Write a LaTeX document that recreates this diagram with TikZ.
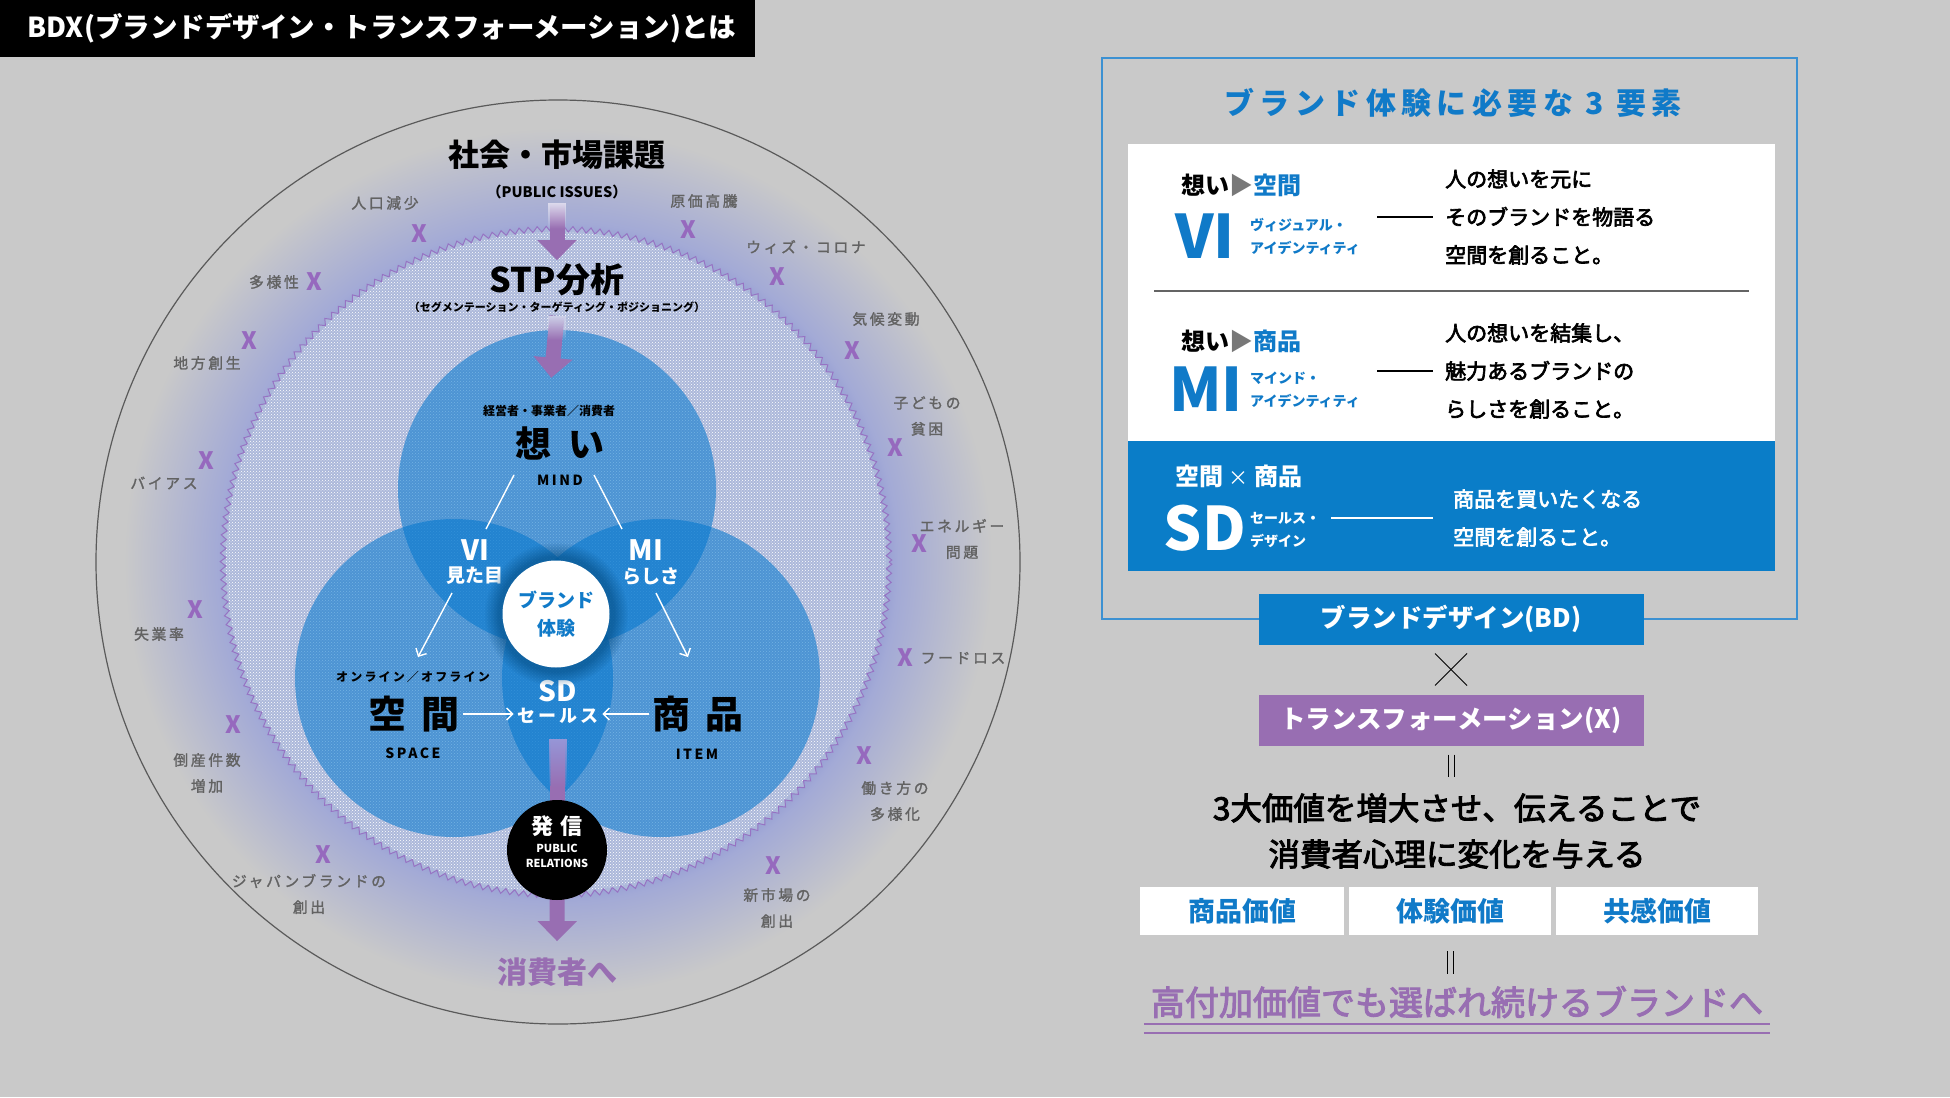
\documentclass[tikz,border=0pt]{standalone}
\usepackage{fontspec}
\setmainfont{Noto Sans CJK JP}
\newfontfamily\jpwide[LetterSpace=18]{Noto Sans CJK JP}
\newfontfamily\jpmed[FakeBold=3]{Noto Sans CJK JP}
\newfontfamily\jplbl[LetterSpace=18, FakeBold=1.5]{Noto Sans CJK JP}
\usetikzlibrary{arrows.meta, calc, decorations.pathmorphing, fadings, patterns}
\usepackage{xcolor}
\definecolor{bgGray}{RGB}{201,201,201}
\definecolor{lblGray}{RGB}{98,98,98}
\definecolor{ringGray}{RGB}{90,90,90}
\definecolor{sepGray}{RGB}{100,100,100}
\definecolor{triGray}{RGB}{120,120,120}
\definecolor{xPurple}{RGB}{150,105,190}
\definecolor{aPurple}{RGB}{152,110,178}
\definecolor{bBlue}{RGB}{10,125,200}
\definecolor{tBlue}{RGB}{16,122,200}
\definecolor{frameBlue}{RGB}{60,145,210}
\definecolor{vennBlue}{RGB}{0,118,206}
\definecolor{zigFill}{RGB}{172,184,218}
\definecolor{zigLine}{RGB}{150,115,195}
\definecolor{haloIn}{RGB}{150,158,212}
\definecolor{haloMid}{RGB}{163,170,214}
\definecolor{fadeTop}{RGB}{222,220,238}
\definecolor{fadeMid}{RGB}{205,208,232}
\definecolor{fadeLow}{RGB}{150,150,215}

\newcommand\fsz[1]{\fontsize{#1pt}{#1pt}\selectfont}
\newcommand\fsl[2]{\fontsize{#1pt}{#2pt}\selectfont}

\pgfdeclareradialshading{halo}{\pgfpoint{0bp}{0bp}}{color(0bp)=(haloIn); color(17.6bp)=(haloIn); color(18.4bp)=(haloMid); color(23.5bp)=(bgGray); color(50bp)=(bgGray)}
\tikzfading[name=fadedown, top color=transparent!0, bottom color=transparent!100]

\tikzset{
  issue/.style={text=lblGray, font=\jplbl\fsl{14.8}{26}, align=center},
  xmark/.style={text=xPurple, font=\bfseries\fsz{24}, inner sep=0pt},
  wtxt/.style={text=white, font=\bfseries\fsz{19}},
  wline/.style={draw=white, line width=1.4pt},
  warrow/.style={wline, -{Straight Barb[length=6pt, width=12pt]}},
  parrow/.style={draw=aPurple, line width=15pt, -{Triangle[width=38pt, length=20pt]}},
  rowhead/.style={anchor=west, inner sep=0pt, font=\bfseries\fsz{24}},
  kana/.style={anchor=west, inner sep=0pt, text=tBlue, font=\bfseries\fsl{14}{23}, align=left},
  desc/.style={anchor=west, inner sep=0pt, font=\jpmed\fsl{21}{38}, align=left},
  abbr/.style={font=\bfseries\fsz{60}, inner sep=0pt},
  valbox/.style={fill=white, text=tBlue, font=\bfseries\fsz{27}, minimum height=48pt},
  barbox/.style={text=white, font=\bfseries\fsz{25.5}, minimum width=385pt, minimum height=51pt},
}

\begin{document}
\begin{tikzpicture}[x=1pt, y=-1pt]
\fill[bgGray] (0,0) rectangle (1950,1097);
\useasboundingbox (0,0) rectangle (1950,1097);

% Title bar
\fill[black] (0,0) rectangle (755,57);
\node[text=white, font=\bfseries\fsz{27.5}] (title) at (382,28) {BDX(ブランドデザイン・トランスフォーメーション)とは};

% Outer ring with glow
\shade[shading=halo] (558,562) circle (462);
\draw[ringGray, line width=1.2pt] (558,562) circle (462);

% STP disk
\filldraw[fill=zigFill, draw=zigLine, line width=1pt, decorate,
  decoration={zigzag, segment length=9pt, amplitude=2.8pt}] (556,562) circle (333);
\fill[pattern=crosshatch dots, pattern color=white] (556,562) circle (330);

% Venn circles
\foreach \x/\y in {557/489, 454/678, 661/678} {
  \fill[vennBlue, fill opacity=0.55] (\x,\y) circle (159);
}

% Issues around the ring
\foreach \nm/\x/\y/\lbl in {jinko/385/203/人口減少, genka/704/201/原価高騰,
    withc/806/247/ウィズ・コロナ, kiko/886/319/気候変動, kodomo/927/416/子どもの\\貧困,
    energy/962/539/エネルギー\\問題, food/963/658/フードロス, hataraki/895/801/働き方の\\多様化,
    shinshijo/777/908/新市場の\\創出, japan/309/894/ジャパンブランドの\\創出,
    tosan/207/773/倒産件数\\増加, shitsugyo/159/634/失業率, bias/164/483/バイアス,
    chiho/207/363/地方創生, tayo/274/282/多様性} {
  \node[issue] (\nm) at (\x,\y) {\lbl};
}
\foreach \x/\y [count=\i] in {419/234, 688/230, 777/277, 852/351, 895/448, 919/544,
    905/658, 864/756, 773/866, 323/855, 233/725, 195/610, 206/461, 249/341, 314/282} {
  \node[xmark] (xm\i) at (\x,\y) {X};
}

% Flow labels
\node[font=\bfseries\fsz{31}] (issues) at (557,155) {社会・市場課題};
\node[font=\bfseries\fsz{14.5}] (pubissues) at (557,192) {（PUBLIC ISSUES）};
\node[font=\bfseries\fsz{34}] (stp) at (557,280) {STP分析};
\node[font=\bfseries\fsz{11}] (stpsub) at (557,307) {（セグメンテーション・ターゲティング・ポジショニング）};
\node[font=\bfseries\fsz{12}] (keiei) at (549,411) {経営者・事業者／消費者};
\node[font=\bfseries\fsz{36}] (omoi) at (560,443) {想\hspace{0.45em}い};
\node[font=\jpwide\bfseries\fsz{14}] (mind) at (560,480) {MIND};
\node[wtxt, font=\bfseries\fsz{28}] (vi) at (475,550) {VI};
\node[wtxt] (mitame) at (475,576) {見た目};
\node[wtxt, font=\bfseries\fsz{28}] (mi) at (646,550) {MI};
\node[wtxt] (rashisa) at (651,577) {らしさ};
\node[font=\jpwide\bfseries\fsz{12}] (online) at (413,677) {オンライン／オフライン};
\node[font=\bfseries\fsz{38}] (kukan) at (414,714) {空\hspace{0.4em}間};
\node[font=\jpwide\bfseries\fsz{14}] (space) at (413,753) {SPACE};
\node[wtxt, font=\bfseries\fsz{28}] (sd) at (558,691) {SD};
\node[wtxt, font=\jpwide\bfseries\fsz{18}] (sales) at (558,716) {セールス};
\node[font=\bfseries\fsz{38}] (shohin) at (698,714) {商\hspace{0.4em}品};
\node[font=\jpwide\bfseries\fsz{14}] (item) at (697,754) {ITEM};
\node[text=aPurple, font=\bfseries\fsz{30}] (consumer) at (557,972) {消費者へ};

% Purple flow arrows
\draw[parrow] (pubissues.south) -- (stp.north);
\fill[fadeTop, path fading=fadedown] ($(pubissues.south)+(-9,0)$) rectangle ($(pubissues.south)+(9,26)$);
\draw[parrow, shorten >=24pt] (stpsub.south) -- (keiei.north);
\fill[fadeMid, path fading=fadedown] ($(stpsub.south)+(-9,0)$) rectangle ($(stpsub.south)+(9,24)$);
\draw[parrow, shorten <=12pt, shorten >=13pt] (sales.south) -- (consumer.north);
\fill[fadeLow, path fading=fadedown] ($(sales.south)+(-9,12)$) rectangle ($(sales.south)+(9,60)$);

% Centre circles
\fill[vennBlue!60!black, fill opacity=0.55, path fading=circle with fuzzy edge 20 percent] (556,614) circle (72);
\node[circle, fill=white, minimum size=107pt, inner sep=0pt, text=tBlue,
  font=\bfseries\fsl{19}{28}, align=center] (taiken) at (556,614) {ブランド\\体験};
\node[circle, fill=black, minimum size=100pt, inner sep=0pt] (hassinbg) at (557,850) {};
\node[text=white, font=\bfseries\fsz{22}] (hassin) at (557,826) {発\hspace{0.3em}信};
\node[text=white, font=\bfseries\fsl{11}{15}, align=center] (pr) at (557,856) {PUBLIC\\RELATIONS};

% White connectors
\draw[wline] ($(mind)+(-46,-5)$) -- ($(vi)+(11,-21)$);
\draw[wline] ($(mind)+(34,-5)$) -- ($(mi)+(-24,-21)$);
\draw[warrow] ($(mitame)+(-23,17)$) -- ($(online)+(5,-20)$);
\draw[warrow] ($(rashisa)+(5,16)$) -- ($(shohin)+(-10,-57)$);
\draw[warrow] (kukan.east) -- (kukan.east -| sales.west);
\draw[warrow] (shohin.west) -- (shohin.west -| sales.east);

% Three elements panel
\draw[frameBlue, line width=1.5pt] (1102,58) rectangle (1797,619);
\node[text=tBlue, font=\jpwide\bfseries\fsz{30}] (elems) at (1453,103) {ブランド体験に必要な 3 要素};
\fill[white] (1128,144) rectangle (1775,441);
\draw[sepGray, line width=1.5pt] (1154,291) -- (1749,291);
\fill[bBlue] (1128,441) rectangle (1775,571);

% VI row
\node[rowhead] (vihead) at (1181,185) {想い{\color{triGray}▶}{\color{tBlue}空間}};
\node[abbr, text=tBlue] (viabbr) at (1205,236) {VI};
\node[kana] (vikana) at (1250,237) {ヴィジュアル・\\アイデンティティ};
\node[desc] (videsc) at (1445,217) {人の想いを元に\\そのブランドを物語る\\空間を創ること。};
\draw[line width=1.2pt] ($(vikana.east |- videsc.west)+(17,0)$) -- ($(videsc.west)+(-12,0)$);

% MI row
\node[rowhead] (mihead) at (1181,341) {想い{\color{triGray}▶}{\color{tBlue}商品}};
\node[abbr, text=tBlue] (miabbr) at (1206,389) {MI};
\node[kana] (mikana) at (1250,390) {マインド・\\アイデンティティ};
\node[desc] (midesc) at (1445,371) {人の想いを結集し、\\魅力あるブランドの\\らしさを創ること。};
\draw[line width=1.2pt] ($(mikana.east |- midesc.west)+(17,0)$) -- ($(midesc.west)+(-12,0)$);

% SD row
\node[rowhead, text=white] (sdhead) at (1175,476) {空間 {\mdseries\fsz{20}×} 商品};
\node[abbr, text=white] (sdabbr) at (1205,528) {SD};
\node[kana, text=white] (sdkana) at (1250,530) {セールス・\\デザイン};
\node[desc, text=white] (sddesc) at (1453,518) {商品を買いたくなる\\空間を創ること。};
\draw[white, line width=1.5pt] ($(sdkana.east |- sddesc.west)+(11,0)$) -- ($(sddesc.west)+(-20,0)$);

% BD x X
\node[barbox, fill=bBlue] (bd) at (1451,619) {ブランドデザイン(BD)};
\node[barbox, fill=aPurple] (trans) at (1451,720) {トランスフォーメーション(X)};
\coordinate (crossc) at ($(bd.south)!0.5!(trans.north)$);
\draw[line width=1pt] ($(crossc)+(-16,-16)$) -- ($(crossc)+(16,16)$);
\draw[line width=1pt] ($(crossc)+(-16,16)$) -- ($(crossc)+(16,-16)$);
\draw[line width=1pt] ($(trans.south)+(-3,9)$) -- ($(trans.south)+(-3,31)$);
\draw[line width=1pt] ($(trans.south)+(3,9)$) -- ($(trans.south)+(3,31)$);

\node[font=\jpmed\fsl{31.5}{46}, align=center] (msg) at (1457,831) {3大価値を増大させ、伝えることで\\消費者心理に変化を与える};
\node[valbox, minimum width=204pt] (val1) at (1242,911) {商品価値};
\node[valbox, minimum width=202pt] (val2) at (1450,911) {体験価値};
\node[valbox, minimum width=202pt] (val3) at (1657,911) {共感価値};
\draw[line width=1pt] ($(val2.south)+(-3,16)$) -- ($(val2.south)+(-3,39)$);
\draw[line width=1pt] ($(val2.south)+(3,16)$) -- ($(val2.south)+(3,39)$);

\node[text=aPurple, font=\jpmed\fsz{34}, inner sep=0pt] (goal) at (1457,1002) {高付加価値でも選ばれ続けるブランドへ};
\draw[aPurple, line width=2pt] ($(goal.south west)+(-7,6)$) -- ($(goal.south east)+(7,6)$);
\draw[aPurple, line width=2pt] ($(goal.south west)+(-7,15)$) -- ($(goal.south east)+(7,15)$);
\end{tikzpicture}
\end{document}
